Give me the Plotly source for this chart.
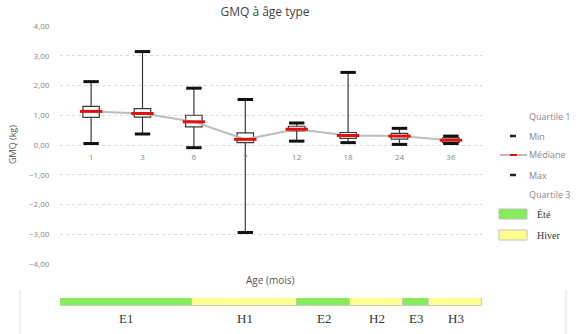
import plotly.graph_objects as go
import numpy as np

# ---- data ----
ages = ["1", "3", "6", "7", "12", "18", "24", "36"]
mins = [0.05, 0.37, -0.09, -2.94, 0.13, 0.08, 0.02, 0.05]
q1 = [0.93, 0.94, 0.61, 0.08, 0.47, 0.22, 0.20, 0.08]
medians = [1.13, 1.06, 0.78, 0.19, 0.53, 0.32, 0.30, 0.16]
q3 = [1.30, 1.22, 1.00, 0.41, 0.63, 0.42, 0.39, 0.24]
maxs = [2.13, 3.14, 1.91, 1.53, 0.74, 2.44, 0.56, 0.30]

seasons = ["E1", "H1", "E2", "H2", "E3", "H3"]
season_len = [5, 4, 2, 2, 1, 2]
season_type = ["Été", "Hiver", "Été", "Hiver", "Été", "Hiver"]
y_ticks = [4, 3, 2, 1, 0, -1, -2, -3, -4]

GREEN = "#86EC5A"
YELLOW = "#FFFF8E"
season_colors = {"Été": GREEN, "Hiver": YELLOW}

W, H = 577, 334
L, R, T, B = 60, 95, 26, 0
PW, PH = W - L - R, H - T - B


def px(x):
    return (x - L) / PW


def py(y):
    return (H - B - y) / PH


fig = go.Figure()

# boxes + whiskers
fig.add_trace(go.Box(
    x=ages, q1=q1, median=medians, q3=q3, lowerfence=mins, upperfence=maxs,
    width=0.32, whiskerwidth=0, fillcolor="white",
    line=dict(color="#3A3A3A", width=1.2), boxpoints=False, showlegend=False,
    hoverinfo="skip",
))
# median connecting line
fig.add_trace(go.Scatter(
    x=ages, y=medians, mode="lines", line=dict(color="#BDBDBD", width=2),
    showlegend=False, hoverinfo="skip",
))
# median marks
fig.add_trace(go.Scatter(
    x=ages, y=medians, mode="markers",
    marker=dict(symbol="line-ew", size=16, line=dict(color="#E01010", width=3)),
    showlegend=False, hoverinfo="skip",
))
# caps
fig.add_trace(go.Scatter(
    x=ages + ages, y=mins + maxs, mode="markers",
    marker=dict(symbol="line-ew", size=11, line=dict(color="#111111", width=3)),
    showlegend=False, hoverinfo="skip",
))

# season bar
starts = list(np.cumsum([0] + season_len[:-1]))
fig.add_trace(go.Bar(
    y=[0] * len(seasons), x=season_len, base=starts, orientation="h",
    width=1, xaxis="x2", yaxis="y2",
    marker=dict(color=[season_colors[s] for s in season_type],
                line=dict(color="#C8C8C8", width=1)),
    showlegend=False, hoverinfo="skip",
))

annotations = []
for s, st, ln in zip(seasons, starts, season_len):
    annotations.append(dict(
        x=float(st + ln / 2), y=py(318), xref="x2", yref="paper", text=s,
        xanchor="center", yanchor="middle",
        showarrow=False, font=dict(family="Liberation Serif", size=13, color="#333333"),
    ))

annotations += [
    dict(x=px(12), y=py(145), xref="paper", yref="paper", text="GMQ (kg)",
         textangle=-90, showarrow=False, xanchor="center", yanchor="middle",
         font=dict(family="Open Sans", size=9, color="#555555")),
    dict(x=px(270), y=py(280), xref="paper", yref="paper", text="Age (mois)",
         showarrow=False, xanchor="center", yanchor="middle",
         font=dict(family="Open Sans", size=10, color="#555555")),
]

leg_font = dict(family="Open Sans", size=9, color="#888888")
for label, yy in [("Quartile 1", 117), ("Min", 136), ("Médiane", 155), ("Max", 175), ("Quartile 3", 194)]:
    annotations.append(dict(x=px(527), y=py(yy), xref="paper", yref="paper", text=label,
                            showarrow=False, xanchor="left", yanchor="middle", font=leg_font))
for label, yy in [("Été", 214), ("Hiver", 235)]:
    annotations.append(dict(x=px(535), y=py(yy), xref="paper", yref="paper", text=label,
                            showarrow=False, xanchor="left", yanchor="middle",
                            font=dict(family="Liberation Serif", size=10, color="#333333")))

shapes = [
    # legend symbols
    dict(type="line", xref="paper", yref="paper", x0=px(510), x1=px(516), y0=py(136), y1=py(136),
         line=dict(color="#222222", width=2.5)),
    dict(type="line", xref="paper", yref="paper", x0=px(510), x1=px(516), y0=py(175), y1=py(175),
         line=dict(color="#222222", width=2.5)),
    dict(type="line", xref="paper", yref="paper", x0=px(500), x1=px(527), y0=py(155), y1=py(155),
         line=dict(color="#BDBDBD", width=2)),
    dict(type="line", xref="paper", yref="paper", x0=px(510), x1=px(517), y0=py(155), y1=py(155),
         line=dict(color="#E01010", width=2)),
    dict(type="rect", xref="paper", yref="paper", x0=px(499), x1=px(527), y0=py(219), y1=py(209),
         fillcolor=GREEN, line=dict(color="#C0C0C0", width=1)),
    dict(type="rect", xref="paper", yref="paper", x0=px(499), x1=px(527), y0=py(240), y1=py(230),
         fillcolor=YELLOW, line=dict(color="#C0C0C0", width=1)),
    # faint frame lines
    dict(type="line", xref="paper", yref="paper", x0=px(20), x1=px(20), y0=py(290), y1=py(334),
         line=dict(color="#E0E0E0", width=1)),
    dict(type="line", xref="paper", yref="paper", x0=px(566), x1=px(566), y0=py(290), y1=py(334),
         line=dict(color="#E0E0E0", width=1)),
]

fig.update_layout(
    width=W, height=H, margin=dict(l=L, r=R, t=T, b=B, autoexpand=False),
    paper_bgcolor="white", plot_bgcolor="white",
    separators=", ",
    title=dict(text="GMQ à âge type", x=265 / W, xref="container", y=1 - 12 / H,
               yref="container", xanchor="center", yanchor="middle",
               font=dict(family="Open Sans", size=12, color="#444444")),
    xaxis=dict(type="category", categoryorder="array", categoryarray=ages,
               domain=[0, 1], anchor="free", position=py(145), automargin=False,
               showgrid=False, showline=False, zeroline=False,
               ticks="outside", ticklen=4, tickcolor="rgba(0,0,0,0)",
               tickfont=dict(family="Open Sans", size=8, color="#888888")),
    yaxis=dict(range=[-4, 4], domain=[py(264), 1], tickvals=y_ticks, tickformat=".2f",
               automargin=False,
               showgrid=True, gridcolor="#DADADA", griddash="dot", gridwidth=1,
               zeroline=False, showline=False,
               ticks="outside", ticklen=8, tickcolor="rgba(0,0,0,0)",
               tickfont=dict(family="Open Sans", size=8, color="#888888")),
    xaxis2=dict(range=[0, sum(season_len)], domain=[0, 1], anchor="y2",
                visible=False, fixedrange=True, automargin=False),
    yaxis2=dict(range=[-0.5, 0.5], domain=[py(306), py(298)], anchor="x2",
                visible=False, fixedrange=True, automargin=False),
    annotations=annotations, shapes=shapes, bargap=0, showlegend=False,
)

fig.write_html("out.html")
